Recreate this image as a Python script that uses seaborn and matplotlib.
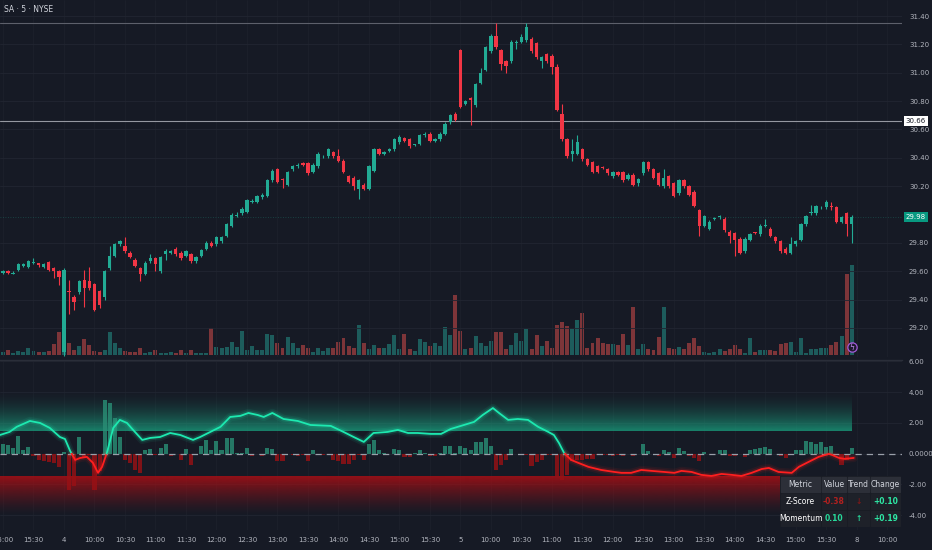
import numpy as np
import matplotlib
matplotlib.use("Agg")
import matplotlib.pyplot as plt
import seaborn as sns
from matplotlib.colors import to_rgb
from matplotlib.patches import Rectangle
from matplotlib.transforms import blended_transform_factory

# SA 5-minute candles, 15:00 of the previous session through the close of day "5"
bar_start = -12

opens = [
    29.59, 29.60, 29.58, 29.61, 29.64, 29.63, 29.66, 29.655, 29.63, 29.665, 29.62, 29.60,
    29.03, 29.46, 29.42, 29.45, 29.54, 29.53, 29.51, 29.46, 29.42, 29.62, 29.71, 29.79,
    29.78, 29.73, 29.68, 29.62, 29.58, 29.67, 29.69, 29.60, 29.72, 29.73, 29.76, 29.73,
    29.71, 29.72, 29.67, 29.71, 29.76, 29.80, 29.79, 29.81, 29.85, 29.92, 29.99, 30.01,
    30.02, 30.09, 30.09, 30.12, 30.13, 30.24, 30.32, 30.25, 30.21, 30.32, 30.34, 30.36,
    30.36, 30.30, 30.34, 30.41, 30.41, 30.44, 30.41, 30.38, 30.27, 30.26, 30.18, 30.21,
    30.18, 30.31, 30.46, 30.43, 30.45, 30.46, 30.51, 30.54, 30.53, 30.49, 30.50, 30.56,
    30.57, 30.52, 30.53, 30.57, 30.65, 30.71,
    31.16, 30.78, 30.82, 30.77, 30.93, 31.02, 31.15, 31.26, 31.16, 31.08, 31.08, 31.21,
    31.22, 31.23, 31.24, 31.21, 31.08, 31.13, 31.12, 31.04, 30.71, 30.53, 30.43, 30.43,
    30.46, 30.39, 30.37, 30.34, 30.335, 30.32, 30.27, 30.30, 30.30, 30.25, 30.28, 30.22,
    30.29, 30.37, 30.32, 30.29, 30.20, 30.27, 30.22, 30.15, 30.24, 30.20, 30.16, 30.03,
    29.92, 29.90, 29.97, 29.98, 29.97, 29.88, 29.87, 29.83, 29.74, 29.82, 29.875, 29.86,
    29.92, 29.90, 29.84, 29.81, 29.76, 29.73, 29.79, 29.82, 29.93, 30.01, 30.01, 30.05,
    30.05, 30.06, 30.05, 29.95, 30.01, 29.93,
]
highs = [
    29.61, 29.61, 29.60, 29.66, 29.66, 29.68, 29.69, 29.66, 29.66, 29.67, 29.63, 29.61,
    29.62, 29.54, 29.43, 29.54, 29.61, 29.63, 29.52, 29.47, 29.61, 29.78, 29.80, 29.82,
    29.84, 29.74, 29.69, 29.63, 29.67, 29.72, 29.70, 29.71, 29.76, 29.75, 29.77, 29.74,
    29.75, 29.73, 29.71, 29.76, 29.81, 29.81, 29.85, 29.85, 29.94, 30.01, 30.02, 30.05,
    30.11, 30.11, 30.14, 30.15, 30.25, 30.32, 30.33, 30.26, 30.31, 30.35, 30.36, 30.37,
    30.37, 30.36, 30.44, 30.42, 30.47, 30.45, 30.46, 30.39, 30.28, 30.27, 30.25, 30.22,
    30.35, 30.47, 30.47, 30.45, 30.47, 30.54, 30.56, 30.55, 30.54, 30.50, 30.57, 30.58,
    30.58, 30.54, 30.58, 30.65, 30.71, 30.72,
    31.17, 30.81, 30.83, 30.93, 31.03, 31.19, 31.27, 31.35, 31.17, 31.09, 31.23, 31.23,
    31.27, 31.35, 31.25, 31.22, 31.12, 31.14, 31.13, 31.06, 30.78, 30.54, 30.53, 30.56,
    30.47, 30.40, 30.38, 30.35, 30.34, 30.33, 30.31, 30.31, 30.31, 30.29, 30.29, 30.26,
    30.38, 30.38, 30.33, 30.30, 30.32, 30.28, 30.23, 30.25, 30.25, 30.21, 30.17, 30.04,
    30.00, 29.96, 29.98, 30.00, 29.98, 29.89, 29.88, 29.84, 29.84, 29.87, 29.88, 29.93,
    29.97, 29.91, 29.85, 29.82, 29.77, 29.84, 29.82, 29.94, 30.00, 30.07, 30.07, 30.06,
    30.10, 30.09, 30.06, 29.99, 30.02, 30.00,
]
lows = [
    29.58, 29.58, 29.58, 29.60, 29.63, 29.62, 29.65, 29.63, 29.62, 29.60, 29.55, 29.50,
    29.00, 29.30, 29.33, 29.44, 29.35, 29.47, 29.32, 29.34, 29.40, 29.61, 29.70, 29.78,
    29.73, 29.69, 29.63, 29.53, 29.57, 29.66, 29.60, 29.59, 29.68, 29.72, 29.71, 29.68,
    29.70, 29.66, 29.66, 29.70, 29.75, 29.77, 29.78, 29.80, 29.84, 29.91, 29.98, 30.00,
    30.01, 30.08, 30.08, 30.11, 30.12, 30.23, 30.22, 30.19, 30.20, 30.31, 30.33, 30.34,
    30.28, 30.29, 30.33, 30.40, 30.40, 30.40, 30.37, 30.29, 30.22, 30.17, 30.11, 30.17,
    30.17, 30.30, 30.42, 30.42, 30.44, 30.45, 30.50, 30.51, 30.47, 30.48, 30.49, 30.55,
    30.51, 30.51, 30.52, 30.56, 30.64, 30.66,
    30.75, 30.77, 30.63, 30.76, 30.92, 31.01, 31.14, 31.17, 31.02, 31.00, 31.07, 31.17,
    31.21, 31.22, 31.14, 31.10, 31.03, 31.07, 30.99, 30.73, 30.52, 30.40, 30.38, 30.42,
    30.38, 30.34, 30.29, 30.29, 30.32, 30.28, 30.26, 30.27, 30.23, 30.24, 30.20, 30.20,
    30.28, 30.31, 30.25, 30.20, 30.19, 30.19, 30.12, 30.14, 30.19, 30.13, 30.05, 29.85,
    29.91, 29.89, 29.96, 29.97, 29.88, 29.80, 29.71, 29.72, 29.73, 29.81, 29.86, 29.85,
    29.91, 29.84, 29.80, 29.73, 29.72, 29.72, 29.78, 29.81, 29.92, 30.00, 30.00, 30.04,
    30.04, 30.03, 29.94, 29.94, 29.85, 29.80,
]
closes = [
    29.60, 29.59, 29.59, 29.65, 29.65, 29.67, 29.665, 29.645, 29.65, 29.61, 29.60, 29.56,
    29.61, 29.45, 29.38, 29.53, 29.48, 29.48, 29.33, 29.36, 29.60, 29.71, 29.79, 29.81,
    29.74, 29.70, 29.64, 29.58, 29.66, 29.69, 29.65, 29.70, 29.74, 29.74, 29.72, 29.69,
    29.74, 29.67, 29.70, 29.75, 29.80, 29.78, 29.84, 29.84, 29.93, 30.00, 30.00, 30.04,
    30.10, 30.09, 30.13, 30.14, 30.24, 30.31, 30.23, 30.24, 30.30, 30.34, 30.35, 30.35,
    30.29, 30.35, 30.43, 30.41, 30.46, 30.41, 30.38, 30.30, 30.23, 30.20, 30.24, 30.18,
    30.34, 30.46, 30.43, 30.44, 30.46, 30.53, 30.55, 30.52, 30.48, 30.49, 30.56, 30.56,
    30.52, 30.53, 30.57, 30.64, 30.70, 30.67,
    30.76, 30.80, 30.81, 30.92, 31.00, 31.18, 31.26, 31.18, 31.06, 31.05, 31.22, 31.21,
    31.25, 31.32, 31.15, 31.11, 31.11, 31.08, 31.04, 30.74, 30.53, 30.41, 30.45, 30.51,
    30.39, 30.35, 30.30, 30.30, 30.33, 30.29, 30.30, 30.28, 30.24, 30.28, 30.21, 30.25,
    30.37, 30.32, 30.26, 30.21, 30.26, 30.20, 30.13, 30.24, 30.20, 30.14, 30.06, 29.92,
    29.99, 29.95, 29.97, 29.98, 29.89, 29.85, 29.82, 29.73, 29.83, 29.86, 29.87, 29.92,
    29.92, 29.85, 29.81, 29.74, 29.73, 29.79, 29.81, 29.93, 29.99, 30.01, 30.06, 30.05,
    30.09, 30.05, 29.95, 29.98, 29.93, 29.98,
]
volumes = [
    3, 5, 2, 4, 3, 7, 4, 3, 3, 4, 11, 23,
    18, 12, 5, 9, 16, 10, 4, 3, 5, 23, 12, 7,
    4, 3, 3, 7, 2, 3, 5, 2, 2, 3, 2, 5,
    2, 5, 2, 2, 2, 27, 8, 7, 8, 13, 8, 24,
    5, 9, 5, 5, 21, 20, 12, 7, 18, 12, 7, 10,
    7, 3, 7, 4, 7, 7, 13, 17, 9, 7, 30, 12,
    6, 10, 7, 7, 11, 20, 6, 21, 6, 4, 16, 13,
    9, 12, 9, 28, 20, 60,
    24, 6, 7, 19, 12, 9, 14, 23, 23, 6, 10, 22,
    14, 26, 6, 20, 9, 14, 7, 30, 33, 29, 26, 35,
    42, 7, 12, 17, 12, 11, 11, 10, 21, 10, 48, 6,
    11, 6, 5, 18, 48, 7, 6, 8, 6, 12, 17, 9,
    3, 2, 3, 6, 4, 6, 10, 6, 2, 17, 3, 5,
    5, 5, 4, 11, 12, 13, 3, 17, 2, 6, 6, 7,
    7, 10, 13, 19, 81, 90,
]
momentum_hist = [
    0.63, 0.55, 0.37, 1.17, 0.26, 0.43, -0.17, -0.39, -0.50, -0.56, -0.60, -0.87,
    0.10, -2.34, -2.10, 1.06, -0.20, -0.10, -2.38, -1.10, 3.48, 3.26, 2.30, 1.08,
    -0.39, -0.60, -1.04, -1.25, 0.26, 0.32, -0.10, 0.37, 0.65, -0.17, -0.05, -0.39,
    0.30, -0.71, -0.05, 0.52, 0.91, 0.26, 0.80, 0.26, 1.02, 1.02, 0.05, 0.05,
    0.37, -0.17, -0.05, -0.17, 0.37, 0.30, -0.50, -0.50, -0.05, -0.10, -0.17, -0.10,
    -0.45, 0.26, -0.10, -0.10, -0.05, -0.39, -0.50, -0.65, -0.65, -0.39, -0.10, -0.39,
    0.60, 0.91, 0.26, 0.05, -0.05, 0.30, 0.22, -0.20, -0.20, 0.05, 0.26, 0.05,
    -0.17, -0.17, 0.05, 0.52, 0.52, 0.05,
    0.48, 0.37, 0.26, 0.74, 0.74, 1.02, 0.52, -1.04, -0.71, -0.39, 0.30, -0.05,
    -0.10, -0.10, -0.82, -0.56, -0.39, -0.10, -0.10, -1.47, -1.73, -1.36, -0.50, -0.39,
    -0.39, -0.35, -0.35, -0.10, -0.10, -0.10, -0.17, -0.10, -0.17, -0.05, -0.17, -0.05,
    0.65, 0.15, -0.05, -0.17, 0.26, 0.10, -0.28, 0.37, 0.15, -0.17, -0.28, -0.50,
    0.10, -0.05, -0.05, 0.22, 0.26, -0.17, -0.17, -0.05, -0.20, 0.26, 0.33, 0.37,
    0.43, 0.30, -0.05, -0.17, -0.28, -0.05, 0.26, 0.26, 0.80, 0.74, 0.60, 0.74,
    0.43, 0.48, -0.05, -0.71, -0.39, 0.37,
]

# z-score line, read at bar positions
z_pos = [
    -12.6, -10.7, -9.3, -6.7, -4.7, -2.8, -0.8, 0.2, 1.2, 2.2, 3.2, 4.5, 5.7, 6.7, 7.5, 8.5,
    9.7, 11.0, 12.4, 13.6, 15.4, 17.0, 18.9, 20.9, 22.9, 23.9, 25.4, 26.8, 28.8, 30.8, 32.7,
    34.7, 36.3, 38.1, 39.3, 41.0, 43.2, 46.0, 48.5, 52.5, 55.0, 57.0, 59.0, 60.9, 63.7, 65.7,
    67.7, 69.6, 72.2, 74.2, 76.1, 78.7, 80.7, 82.4, 84.4, 85.6, 87.4, 89.3, 91.3, 93.3, 95.3,
    96.4, 97.4, 98.4, 99.8, 101.2, 103.2, 105.7, 108.3, 109.7, 111.6, 113.6, 115.6, 118.1,
    120.1, 121.5, 123.5, 125.4, 127.4, 129.4, 131.4, 133.3, 135.3, 137.3, 138.7, 140.6,
    143.2, 144.6, 146.5, 148.5, 150.5, 151.1, 152.5, 153.6, 155.4,
]
z_val = [
    1.21, 1.41, 1.74, 2.12, 1.99, 1.67, 1.08, 0.95, 0.18, -0.41, -0.28, -0.21, -0.60, -1.25,
    -0.86, 0.11, 1.67, 2.19, 1.99, 1.54, 0.89, 1.02, 1.08, 1.34, 1.21, 1.08, 0.89, 1.08, 1.41,
    1.74, 2.38, 2.45, 2.64, 2.51, 2.38, 2.64, 2.25, 2.12, 1.86, 1.80, 1.41, 1.08, 0.76, 1.34,
    1.41, 1.54, 1.34, 1.34, 1.28, 1.28, 1.60, 1.86, 2.06, 2.51, 2.96, 2.64, 2.19, 2.25, 2.19,
    1.74, 1.41, 1.21, 0.69, 0.05, -0.41, -0.60, -0.86, -1.06, -1.19, -1.25, -1.25, -1.06,
    -1.12, -1.19, -1.25, -1.12, -1.19, -1.38, -1.45, -1.32, -1.38, -1.45, -1.25, -1.00, -0.93,
    -1.19, -1.25, -0.86, -0.54, -0.21, -0.02, -0.08, -0.28, -0.34, -0.28,
]

time_labels = ["15:00", "15:30", "4", "10:00", "10:30", "11:00", "11:30", "12:00", "12:30",
               "13:00", "13:30", "14:00", "14:30", "15:00", "15:30", "5", "10:00", "10:30",
               "11:00", "11:30", "12:00", "12:30", "13:00", "13:30", "14:00", "14:30",
               "15:00", "15:30", "8", "10:00"]
price_ticks = [29.20, 29.40, 29.60, 29.80, 30.20, 30.40, 30.60, 30.80, 31.00, 31.20, 31.40]
osc_ticks = [-4, -2, 0, 2, 4, 6]
osc_tick_labels = ["-4.00", "-2.00", "0.0000", "2.00", "4.00", "6.00"]
ref_level = 30.66
high_level = 31.35
upper_band = 1.5
lower_band = -1.5

table_cols = ["Metric", "Value", "Trend", "Change"]
table_rows = [["Z-Score", "-0.38", "↓", "+0.10"],
              ["Momentum", "0.10", "↑", "+0.19"]]
table_colors = [["#ffffff", "#b0201f", "#7d1818", "#2ee8a5"],
                ["#ffffff", "#27d99b", "#27d99b", "#2ee8a5"]]

# ---- style ----
BG = "#161a25"
UP = "#22ab94"
DOWN = "#f23645"
GRID = "#212531"
TXT = "#b2b5be"
LINE_UP = "#1de9b0"
LINE_DN = "#ff1f1f"

sns.set_theme(style="dark", rc={"axes.facecolor": BG, "figure.facecolor": BG,
                                 "savefig.facecolor": BG, "text.color": TXT,
                                 "xtick.color": TXT, "ytick.color": TXT})
plt.rcParams["font.family"] = ["Liberation Sans Narrow", "DejaVu Sans"]

idx = np.arange(bar_start, bar_start + len(closes))
o = np.array(opens); h = np.array(highs); l = np.array(lows); c = np.array(closes)
up = c >= o
xlim = (-12.59, 164.9)
tick_bars = np.arange(-12, -12 + 6 * len(time_labels), 6)

fig = plt.figure(figsize=(9.32, 5.5), dpi=100)
price_rect = [0, 1 - 357 / 550, 902 / 932, 357 / 550]
osc_rect = [0, 1 - 530 / 550, 902 / 932, 170 / 550]

# volume underneath the candles
ax_vol = fig.add_axes(price_rect)
ax_vol.set_facecolor(BG)
ax_vol.bar(idx, volumes, width=0.78, linewidth=0,
           color=np.where(up, "#26a69a", "#ef5350"), alpha=0.48)
ax_vol.set_xlim(xlim)
ax_vol.set_ylim(-2, 355)
ax_vol.set_xticks([]); ax_vol.set_yticks([])
for s in ax_vol.spines.values():
    s.set_visible(False)

# candles
ax = fig.add_axes(price_rect, facecolor="none")
colors = np.where(up, UP, DOWN)
ax.vlines(idx, l, h, colors=colors, linewidth=0.8, zorder=2)
body_b = np.minimum(o, c)
body_h = np.maximum(np.abs(c - o), 0.006)
ax.bar(idx, body_h, bottom=body_b, width=0.66, color=colors, linewidth=0, zorder=3)
ax.set_xlim(xlim)
ax.set_ylim(28.995, 31.513)
ax.yaxis.tick_right()
ax.set_yticks(price_ticks)
ax.set_yticklabels([f"{p:.2f}" for p in price_ticks])
ax.set_xticks(tick_bars)
ax.set_xticklabels([])
ax.tick_params(axis="both", length=0, labelsize=5, pad=5, colors=TXT)
ax.grid(True, axis="y", color=GRID, linewidth=0.6)
ax.grid(True, axis="x", color="#1c202b", linewidth=0.6)
for s in ax.spines.values():
    s.set_visible(False)

ax.axhline(high_level, color="#5d606b", linewidth=0.8, zorder=1)
ax.axhline(ref_level, color="#9598a1", linewidth=0.8, zorder=1)
ax.axhline(closes[-1], color=UP, linewidth=0.6, alpha=0.35, linestyle=(0, (1, 2)), zorder=1)

tr = blended_transform_factory(ax.transAxes, ax.transData)
ax.text(1.004, ref_level, f"{ref_level:.2f}", transform=tr, fontsize=5, color="#131722",
        va="center", ha="left", zorder=10,
        bbox=dict(boxstyle="square,pad=0.3", fc="#ffffff", ec="none"))
ax.text(1.004, closes[-1], f"{closes[-1]:.2f}", transform=tr, fontsize=5, color="#ffffff",
        va="center", ha="left", zorder=10,
        bbox=dict(boxstyle="square,pad=0.3", fc="#089981", ec="none"))

# event marker on the last bar
trm = blended_transform_factory(ax.transData, ax.transAxes)
ax.scatter([idx[-1]], [0.028], s=45, transform=trm, facecolor="#1e1a2e",
           edgecolor="#a259d9", linewidth=0.9, zorder=6, clip_on=False)
ax.text(idx[-1], 0.028, "ϟ", transform=trm, fontsize=5.5, color="#c08af0",
        ha="center", va="center", zorder=7)

fig.text(4 / 932, 1 - 10 / 550, "SA · 5 · NYSE", fontsize=5.5, color="#d1d4dc",
         va="center", ha="left")

# oscillator pane
ax2 = fig.add_axes(osc_rect)
ax2.set_facecolor(BG)
ax2.set_xlim(xlim)
ax2.set_ylim(-4.96, 6.08)


def gradient_band(axis, edge, far, color, alpha_max, power, x1):
    n = 80
    t = np.linspace(0, 1, n)
    img = np.zeros((n, 1, 4))
    img[:, 0, :3] = to_rgb(color)
    img[:, 0, 3] = alpha_max * (1 - t) ** power
    if far < edge:
        img = img[::-1]
    lo, hi = min(edge, far), max(edge, far)
    axis.imshow(img, extent=[xlim[0], x1, lo, hi], origin="lower", aspect="auto",
                interpolation="bilinear", zorder=1)


gradient_band(ax2, upper_band, 4.2, "#1aa884", 0.72, 1.8, idx[-1])
gradient_band(ax2, lower_band, -4.0, "#a80f15", 0.85, 1.3, idx[-1])
ax2.set_xlim(xlim)
ax2.set_ylim(-4.96, 6.08)

hist = np.array(momentum_hist)
ax2.bar(idx, hist, width=0.8, linewidth=0, zorder=2,
        color=np.where(hist >= 0, "#2a8f76", "#9a1014"), alpha=0.8)
ax2.axhline(0, color="#9aa0aa", linewidth=0.9, dashes=(5, 4), zorder=3)

# split the z-score line where it crosses zero
runs = []
cur_x, cur_y = [z_pos[0]], [z_val[0]]
sign = z_val[0] >= 0
for i in range(1, len(z_pos)):
    if (z_val[i] >= 0) != sign:
        x0, y0, x1, y1 = z_pos[i - 1], z_val[i - 1], z_pos[i], z_val[i]
        xc = x0 + (x1 - x0) * y0 / (y0 - y1)
        cur_x.append(xc); cur_y.append(0.0)
        runs.append((sign, cur_x, cur_y))
        cur_x, cur_y = [xc], [0.0]
        sign = not sign
    cur_x.append(z_pos[i]); cur_y.append(z_val[i])
runs.append((sign, cur_x, cur_y))

for pos, xs, ys in runs:
    col = LINE_UP if pos else LINE_DN
    for lw, a in [(6, 0.07), (3.5, 0.15)]:
        ax2.plot(xs, ys, color=col, linewidth=lw, alpha=a, solid_capstyle="round", zorder=4)
    sns.lineplot(x=xs, y=ys, ax=ax2, color=col, linewidth=1.3, estimator=None,
                 sort=False, zorder=5)

ax2.yaxis.tick_right()
ax2.set_yticks(osc_ticks)
ax2.set_yticklabels(osc_tick_labels)
ax2.set_xticks(tick_bars)
ax2.set_xticklabels(time_labels)
ax2.tick_params(axis="both", length=0, labelsize=5, pad=5, colors=TXT)
ax2.grid(True, axis="y", color=GRID, linewidth=0.6)
ax2.grid(True, axis="x", color="#1c202b", linewidth=0.6)
ax2.set_xlabel(""); ax2.set_ylabel("")
for s in ax2.spines.values():
    s.set_visible(False)
ax2.spines["top"].set_visible(True)
ax2.spines["top"].set_color("#2a2e39")
ax2.spines["top"].set_linewidth(1.0)

# stats table
tab = fig.add_axes([780 / 932, 1 - 527 / 550, 121 / 932, 51 / 550])
tab.set_xlim(0, 1); tab.set_ylim(0, 1)
tab.axis("off")
col_edges = [0, 0.339, 0.554, 0.744, 1.0]
tab.add_patch(Rectangle((0, 0), 1, 1, color="#191c24", zorder=0))
gx, gy = 0.006, 0.015
for j, name in enumerate(table_cols):
    x0, x1 = col_edges[j], col_edges[j + 1]
    tab.add_patch(Rectangle((x0 + gx, 2 / 3 + gy), x1 - x0 - 2 * gx, 1 / 3 - 2 * gy,
                            color="#2c2f38", zorder=1))
    tab.text((x0 + x1) / 2, 5 / 6, name, fontsize=5.5, color="#d1d4dc",
             ha="center", va="center", zorder=2)
for r, row in enumerate(table_rows):
    yb = 1 / 3 - r / 3
    for j, val in enumerate(row):
        x0, x1 = col_edges[j], col_edges[j + 1]
        tab.add_patch(Rectangle((x0 + gx, yb + gy), x1 - x0 - 2 * gx, 1 / 3 - 2 * gy,
                                color="#1e2129", zorder=1))
        tab.text((x0 + x1) / 2, yb + 1 / 6, val, fontsize=5.5, color=table_colors[r][j],
                 ha="center", va="center", zorder=2,
                 fontweight="bold" if j > 0 else "normal")

fig.savefig("out.png", dpi=100, facecolor=BG)
